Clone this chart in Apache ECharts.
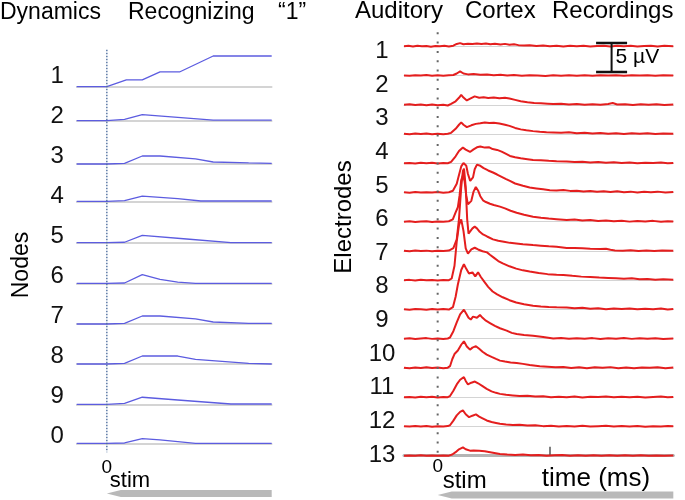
<!DOCTYPE html>
<html><head><meta charset="utf-8">
<script src="https://cdn.jsdelivr.net/npm/echarts@6/dist/echarts.min.js"></script>
<style>html,body{margin:0;padding:0;background:#fff}#c{width:685px;height:500px}</style>
</head><body><div id="c"></div>
<script>
// ---------------- DATA ----------------
const leftTitleWords = ['Dynamics', 'Recognizing', '\u201c1\u201d'];
const rightTitleWords = ['Auditory', 'Cortex', 'Recordings'];
const nodeNames = ['1','2','3','4','5','6','7','8','9','0'];
const electrodeNames = ['1','2','3','4','5','6','7','8','9','10','11','12','13'];
const leftAxisTitle = 'Nodes';
const rightAxisTitle = 'Electrodes';
const stimLabel = 'stim';
const zeroLabel = '0';
const timeLabel = 'time (ms)';
const timeTicks = [100];
const scaleBarLabel = '5 \u00b5V';
const scaleBar = {t: 155, top: 0.57, size: 5};
const leftRange = [-1.7, 9.3];
const rightRange = [-30, 210];

// node activations (time step, activation)
const node1 = [[-1.7,0],[0,0],[1.1,0.22],[2,0.22],[3,0.48],[4.1,0.48],[6,1],[9.3,1]];
const node2 = [[-1.7,0],[0,0],[1,0.045],[2,0.2],[4,0.11],[6,0.02],[9.3,0.02]];
const node3 = [[-1.7,0],[0,0],[1,0.02],[2,0.26],[3,0.26],[5,0.17],[6,0.065],[8,0.035],[9.3,0.02]];
const node4 = [[-1.7,0],[0,0],[1,0.02],[2,0.17],[4,0.085],[5.3,0.01],[9.3,0.01]];
const node5 = [[-1.7,0],[0,0],[1,0.015],[2,0.24],[4.5,0.12],[7,0],[9.3,0]];
const node6 = [[-1.7,0],[0,0],[1,0.01],[2,0.28],[3,0.13],[4,0.04],[5,0],[9.3,0]];
const node7 = [[-1.7,0],[0,0],[1,0.02],[2,0.26],[3,0.26],[5,0.17],[6,0.065],[8,0.02],[9.3,0.02]];
const node8 = [[-1.7,0],[0,0],[1,0.02],[2,0.26],[4,0.26],[5,0.15],[8,0.02],[9.3,0]];
const node9 = [[-1.7,0],[0,0],[1,0.03],[2,0.23],[4,0.14],[7,0.01],[9.3,0.01]];
const node0 = [[-1.7,0],[0,0],[1,0.01],[2,0.15],[3,0.11],[5,0],[9.3,0]];
const nodeSeries = [node1,node2,node3,node4,node5,node6,node7,node8,node9,node0];

// electrode recordings (ms, microvolts)
const e1 = [[-30,0],[-26,0.08],[-22,-0.05],[-18,0.1],[-14,0],[-10,0.06],[-6,-0.06],[-2,0.05],[2,0],[6,0.08],[10,-0.03],[14,0.1],[17,0.4],[20,0.55],[23,0.35],[27,0.45],[31,0.38],[35,0.5],[39,0.4],[43,0.48],[47,0.36],[51,0.44],[56,0.3],[60,0.42],[64,0.28],[68,0.36],[72,0.2],[77,0.12],[82,0.18],[88,0.05],[94,0.12],[100,0],[106,0.1],[112,-0.04],[118,0.08],[124,0.02],[130,0.1],[136,-0.04],[142,0.06],[148,0.1],[154,-0.02],[160,0.08],[166,0],[172,0.1],[178,-0.04],[184,0.06],[190,0.1],[196,-0.02],[202,0.08],[210,0.02]];
const e2 = [[-30,0.02],[-25,-0.05],[-20,0.06],[-15,0],[-10,0.08],[-5,-0.04],[0,0.05],[5,-0.02],[10,0.06],[14,0.1],[17,0.35],[20,0.7],[23,0.35],[27,0.2],[32,0.25],[38,0.12],[44,0.18],[50,0.06],[56,0.12],[62,0],[68,0.08],[75,-0.04],[82,0.06],[89,0.02],[96,-0.06],[103,0.05],[110,-0.02],[117,0.06],[124,-0.05],[131,0.04],[138,-0.03],[145,0.05],[152,0],[159,0.06],[166,-0.04],[173,0.04],[180,0],[187,0.06],[194,-0.03],[201,0.05],[210,0]];
const e3 = [[-30,0],[-25,0.08],[-20,-0.04],[-15,0.06],[-10,-0.08],[-5,0.05],[0,-0.1],[5,0.02],[9,-0.12],[12,0.15],[16,0.6],[19,1.2],[21,1.7],[23,1.25],[26,0.75],[29,1.05],[33,1.45],[37,1.2],[41,1.28],[45,1.18],[50,1.25],[55,1.12],[60,1.2],[64,1.08],[69,0.85],[74,0.62],[80,0.45],[86,0.32],[92,0.25],[98,0.18],[103,0.12],[110,0.18],[117,0.05],[124,0.12],[131,0],[138,0.1],[145,0.02],[152,0.12],[156,0.3],[160,0.05],[167,0.1],[174,-0.04],[181,0.08],[188,0.02],[195,0.1],[202,-0.05],[210,0.04]];
const e4 = [[-30,0.05],[-25,-0.04],[-20,0.08],[-15,0],[-10,0.1],[-5,-0.05],[0,0.05],[5,-0.03],[9,0.04],[12,0.2],[16,0.9],[19,1.6],[21,2.0],[23,1.6],[26,1.2],[30,1.5],[34,1.75],[38,1.85],[42,2.0],[46,1.9],[50,1.95],[55,1.8],[60,1.6],[64,1.4],[69,1.05],[74,0.8],[79,0.64],[85,0.5],[91,0.38],[97,0.3],[103,0.26],[110,0.2],[117,0.3],[124,0.15],[131,0.22],[138,0.1],[145,0.18],[152,0.05],[159,0.15],[166,0.02],[173,0.12],[180,0.05],[187,0.12],[194,0],[201,0.1],[210,0.04]];
const e5 = [[-30,0],[-25,0.06],[-20,-0.05],[-15,0.08],[-10,0],[-5,0.1],[0,-0.04],[5,0.05],[9,0],[12,0.25],[16,1.2],[19,2.1],[22.5,2.7],[25,2.35],[28.8,1.95],[32,2.4],[35,2.75],[38,2.9],[42,2.7],[46,2.75],[49,2.45],[53,2.3],[57,2.0],[61,1.6],[64.4,1.26],[69,1.05],[74,0.85],[80,0.7],[85,0.57],[92,0.5],[99,0.42],[106,0.35],[115,0.3],[122,0.2],[129,0.28],[136,0.12],[143,0.2],[150,0.08],[157,0.16],[164,0.05],[171,0.12],[178,0],[185,0.1],[192,0.04],[199,0.12],[205,0],[210,0.06]];
const e6 = [[-30,0.04],[-25,-0.05],[-20,0.08],[-15,-0.02],[-10,0.06],[-5,0],[0,0.08],[5,-0.04],[10,0.05],[13.6,0.3],[17,1.5],[19,3.0],[21,4.5],[23,5.1],[24.3,5.2],[25.5,4.6],[27,3.2],[29,2.0],[30.3,1.8],[31.5,2.6],[33,4.0],[35,4.8],[36.5,4.9],[38,4.6],[41,4.2],[45,3.8],[49.3,3.45],[53,3.1],[57,2.7],[61,2.3],[64.4,2.0],[69,1.55],[76,1.15],[82,0.85],[88,0.7],[94,0.55],[100,0.4],[106,0.35],[112,0.42],[118,0.28],[124,0.3],[130,0.18],[136,0.26],[142,0.12],[148,0.2],[154,0.08],[160,0.22],[166,0.05],[172,0.15],[178,0.02],[184,0.12],[190,0.06],[196,0.15],[203,0],[210,0.08]];
const e7 = [[-30,0],[-25,0.07],[-20,-0.04],[-15,0.06],[-10,0.1],[-5,-0.05],[0,0.04],[5,0],[10,0.08],[13.5,0.4],[16,1.6],[18,2.5],[19.5,4.5],[21,7.2],[22.5,8.0],[24,7.0],[25.5,4.5],[27,3.0],[28.5,2.9],[30,3.6],[32,5.2],[34,6.0],[36,5.4],[38,4.4],[40.4,3.7],[43,3.4],[46.6,3.1],[50,2.9],[55.5,2.6],[60,2.3],[65,1.9],[70.4,1.55],[77,1.2],[85,0.86],[92,0.7],[99,0.55],[106,0.45],[115,0.3],[122,0.38],[129,0.2],[136,0.28],[143,0.12],[150,0.22],[157,0.08],[164,0.18],[171,0.02],[178,0.12],[185,0.05],[192,0.15],[199,0],[205,0.1],[210,0.04]];
const e8 = [[-30,0.03],[-25,-0.05],[-20,0.08],[-15,0],[-10,0.06],[-5,-0.06],[0,0.05],[5,0],[10,0.07],[14,0.5],[17,2.0],[19,5.5],[21,11],[22.5,13.8],[23.5,14.2],[25,11],[26.3,5.5],[27.5,3.0],[29,3.2],[31,3.9],[33,4.2],[35,3.9],[37.5,3.3],[40.4,2.85],[44,2.5],[49.3,2.0],[54,1.75],[59,1.6],[64.4,1.4],[70,1.3],[76,1.18],[85,1.03],[92,0.92],[99,0.8],[106,0.72],[115,0.52],[122,0.5],[129,0.45],[136,0.4],[145,0.35],[150,0.38],[154,0.2],[158,0.1],[165,0.05],[172,0.12],[179,-0.02],[186,0.08],[193,0],[200,0.1],[210,0.02]];
const e9 = [[-30,0],[-25,0.06],[-20,-0.04],[-15,0.08],[-10,0],[-5,0.05],[0,-0.05],[5,0.04],[10,0],[12.5,0.3],[15,2.5],[17,6.7],[19,9.5],[21,10.5],[23,8.5],[25,5.5],[27,4.6],[30,5.3],[33,5.6],[36,5.3],[40,5.0],[44,4.8],[46.6,4.4],[50,3.9],[54,3.3],[58,2.9],[64,2.4],[70,2.0],[76,1.7],[82,1.5],[90,1.25],[98,1.05],[106,0.95],[112,0.9],[120,0.75],[128,0.62],[136,0.55],[144,0.45],[152,0.4],[159,0.35],[166,0.25],[173,0.32],[180,0.15],[187,0.22],[194,0.1],[201,0.18],[210,0.08]];
const e10 = [[-30,0.05],[-25,-0.04],[-20,0.08],[-15,0.02],[-10,-0.05],[-5,0.06],[0,0],[5,0.08],[10,-0.02],[13.6,0.4],[16,2.2],[18,4.3],[21,6.8],[23.4,7.8],[25.5,7.0],[27.9,6.2],[31,6.4],[33.5,5.7],[36,6.4],[38.5,5.6],[41.5,4.8],[45,3.9],[49,3.1],[53,2.6],[58,2.1],[64,1.6],[70,1.2],[77,0.9],[85,0.64],[92,0.5],[99,0.42],[106,0.38],[115,0.35],[122,0.22],[129,0.3],[136,0.12],[143,0.2],[150,0.05],[157,0.15],[164,0.08],[171,0.18],[178,0.02],[185,0.12],[192,0.05],[199,0.15],[205,0],[210,0.06]];
const e11 = [[-30,0],[-25,0.06],[-20,-0.05],[-15,0.05],[-10,0.1],[-5,-0.03],[0,0.05],[5,-0.05],[9,0.04],[11,0.2],[14,1.3],[17,2.8],[20,4.2],[23.4,5.0],[25.5,4.3],[27.5,3.6],[29.5,3.3],[31.5,3.8],[33.2,4.0],[35,3.6],[37.7,4.1],[40,3.6],[43,3.1],[46.6,2.7],[51,2.2],[55.5,1.8],[61.5,1.4],[66,1.0],[70.4,0.8],[77,0.65],[85,0.5],[94,0.3],[103,0.05],[110,0.12],[117,-0.02],[124,0.08],[131,0],[138,0.1],[145,-0.04],[152,0.06],[159,0],[166,0.1],[173,-0.03],[180,0.06],[187,0],[194,0.08],[201,-0.04],[210,0.05]];
const e12 = [[-30,0.04],[-25,-0.06],[-20,0.06],[-15,-0.02],[-10,0.1],[-5,0],[0,0.06],[5,-0.05],[9,0.05],[11,0.3],[13,1.5],[15,2.4],[18,3.0],[21,4.0],[23.4,4.6],[26,3.7],[28.8,3.15],[31,3.5],[34.1,3.75],[37,3.3],[40,2.8],[43.7,2.3],[48,1.9],[52,1.55],[55.5,1.26],[60,1.1],[65,0.95],[70.4,0.86],[76,0.7],[82,0.5],[91,0.3],[98,0.2],[105,0.1],[112,0.18],[119,0],[126,0.12],[133,-0.05],[140,0.1],[147,0.02],[154,0.14],[161,-0.04],[168,0.08],[175,-0.06],[182,0.06],[189,0.02],[196,0.1],[203,-0.05],[210,0.06]];
const e13 = [[-30,0],[-25,0.05],[-20,-0.04],[-15,0.07],[-10,0],[-5,0.06],[0,-0.04],[5,0.05],[9,0],[11,0.2],[14,1.1],[17,2.2],[20,3.0],[23.4,3.45],[25,2.8],[27,2.2],[30,2.5],[33.2,2.7],[36,2.4],[40,1.9],[43.7,1.43],[48,1.0],[52,0.75],[55.5,0.57],[61,0.4],[67,0.3],[73,0.2],[80,0.25],[87,0.1],[94,0.15],[101,-0.02],[108,0.08],[115,0],[122,0.1],[129,-0.04],[136,0.06],[143,0.02],[150,0.1],[157,-0.03],[164,0.06],[171,0],[178,0.08],[185,-0.04],[192,0.05],[199,0.1],[205,0],[210,0.05]];
const e14 = [[-30,0.05],[-25,-0.03],[-20,0.06],[-15,0],[-10,0.08],[-5,-0.05],[0,0.04],[5,0],[9,0.06],[11,0.2],[14,1.0],[17,1.9],[20,2.5],[22.5,2.75],[25,2.1],[28,1.6],[31,1.85],[34.1,2.07],[37,1.7],[40,1.4],[43.7,1.03],[48,0.75],[52,0.6],[55.5,0.47],[61,0.35],[67,0.25],[73,0.3],[80,0.15],[87,0.2],[94,0.05],[101,0.12],[108,-0.02],[115,0.08],[122,0],[129,0.1],[136,-0.03],[143,0.05],[150,0.1],[157,-0.02],[164,0.06],[171,0],[178,0.08],[185,-0.04],[192,0.05],[199,0],[205,0.08],[210,0.02]];
const e15 = [[-30,0],[-25,0.04],[-20,-0.03],[-15,0.05],[-10,0],[-5,0.04],[0,-0.02],[5,0.04],[10,0],[13,0.2],[16,0.6],[19,1.1],[22.5,1.43],[25,1.1],[28.8,0.86],[32,0.9],[37,0.86],[42,0.75],[48,0.55],[55.5,0.3],[62,0.2],[69,0.12],[76,0.18],[83,0.05],[90,0.1],[97,0],[104,0.06],[111,0.1],[118,0],[125,0.06],[132,-0.02],[139,0.05],[146,0],[153,0.06],[160,-0.02],[167,0.05],[174,0],[181,0.06],[188,-0.03],[195,0.04],[202,0],[210,0.04]];
const electrodeTraces = [e1,e2,e3,e4,e5,e6,e7,e8,e9,e10,e11,e12,e13,e14,e15];

// ---------------- LAYOUT / STYLE ----------------
const FONT = '"Liberation Sans", Arial, Helvetica, sans-serif';
const L = {left: 76.7, width: 195, bases: [86.7,120.7,164,201.3,242.7,283.3,324,364,404.3,443.3], h: 30.7,
           labelTop: 56.5, labelH: 400, labelMargin: 19.5};
const R = {left: 404, width: 269.3, base0: 46.3, step: 29.24, pxPerUnit: 5.8, yMin: -1, yMax: 5,
           labelTop: 34.7, labelH: 437, labelMargin: 22};

const chart = echarts.init(document.getElementById('c'), null, {renderer: 'canvas', width: 685, height: 500});

const grids = [], xAxes = [], yAxes = [], series = [];
nodeSeries.forEach((d, i) => {
  grids.push({left: L.left, width: L.width, top: L.bases[i] - L.h, height: L.h});
  xAxes.push({type: 'value', gridIndex: i, min: leftRange[0], max: leftRange[1],
    axisLine: {show: true, onZero: true, lineStyle: {color: '#c6c6c6', width: 1.6}},
    axisTick: {show: false}, axisLabel: {show: false}, splitLine: {show: false}});
  yAxes.push({type: 'value', gridIndex: i, min: 0, max: 1, show: false});
  series.push({type: 'line', xAxisIndex: i, yAxisIndex: i, data: d, showSymbol: false, clip: false, silent: true,
    lineStyle: {color: '#5c5ce0', width: 1.3}});
});
const rStart = grids.length;
electrodeTraces.forEach((d, k) => {
  const gi = grids.length;
  const base = R.base0 + R.step * k;
  const last = k === electrodeTraces.length - 1;
  grids.push({left: R.left, width: R.width, top: base - R.yMax * R.pxPerUnit, height: (R.yMax - R.yMin) * R.pxPerUnit});
  xAxes.push({type: 'value', gridIndex: gi, min: rightRange[0], max: rightRange[1],
    axisLine: {show: true, onZero: true, lineStyle: {color: last ? '#b4b4b4' : '#d4d4d4', width: last ? 3 : 1}},
    axisTick: last ? {show: true, customValues: timeTicks, inside: true, length: 9, lineStyle: {color: '#555', width: 1.5}} : {show: false},
    axisLabel: {show: false}, splitLine: {show: false}});
  yAxes.push({type: 'value', gridIndex: gi, min: R.yMin, max: R.yMax, show: false});
  series.push({type: 'line', xAxisIndex: gi, yAxisIndex: gi, data: d, showSymbol: false, clip: false, silent: true,
    lineStyle: {color: '#e41e1e', width: 2}});
});
// label grids
const gL = grids.length;
grids.push({left: L.left, width: L.width, top: L.labelTop, height: L.labelH});
xAxes.push({type: 'value', gridIndex: gL, min: leftRange[0], max: leftRange[1], show: false});
yAxes.push({type: 'category', gridIndex: gL, data: nodeNames, inverse: true,
  axisLine: {show: false}, axisTick: {show: false}, splitLine: {show: false},
  axisLabel: {fontSize: 24, color: '#111', fontFamily: FONT, align: 'center', margin: L.labelMargin}});
const gR = grids.length;
grids.push({left: R.left, width: R.width, top: R.labelTop, height: R.labelH});
xAxes.push({type: 'value', gridIndex: gR, min: rightRange[0], max: rightRange[1], show: false});
yAxes.push({type: 'category', gridIndex: gR, data: electrodeNames, inverse: true,
  axisLine: {show: false}, axisTick: {show: false}, splitLine: {show: false},
  axisLabel: {fontSize: 24, color: '#111', fontFamily: FONT, align: 'center', margin: R.labelMargin}});

chart.setOption({animation: false, backgroundColor: '#fff', grid: grids, xAxis: xAxes, yAxis: yAxes, series: series});

// ---------------- ANNOTATIONS ----------------
const px = (g, p) => chart.convertToPixel({gridIndex: g}, p);
const x0L = px(0, [0, 0])[0], xEndL = px(0, [leftRange[1], 0])[0];
const x0R = px(rStart, [0, 0])[0], xEndR = px(rStart, [rightRange[1], 0])[0];
const sbTop = px(rStart, [scaleBar.t, scaleBar.top]);
const sbBot = px(rStart, [scaleBar.t, scaleBar.top - scaleBar.size]);
const lastBaseR = R.base0 + R.step * (electrodeTraces.length - 1);
const txt = (text, x, y, size, opt) => Object.assign({type: 'text', z: 20,
  style: Object.assign({text: text, x: x, y: y, fill: '#000', font: size + 'px ' + FONT, textVerticalAlign: 'middle'}, opt || {})});

const g = [];
g.push({type: 'line', z: 15, shape: {x1: x0L, y1: L.bases[0] - 37, x2: x0L, y2: L.bases[L.bases.length - 1] + 9},
  style: {stroke: '#4f6f9f', lineWidth: 1.4, lineDash: [1.5, 1.5]}});
g.push({type: 'line', z: 15, shape: {x1: x0R, y1: R.base0 - 14, x2: x0R, y2: lastBaseR + 2},
  style: {stroke: '#666', lineWidth: 2, lineDash: [2, 7.3]}});
// scale bar
g.push({type: 'line', z: 15, shape: {x1: sbTop[0], y1: sbTop[1], x2: sbBot[0], y2: sbBot[1]}, style: {stroke: '#111', lineWidth: 2}});
g.push({type: 'line', z: 15, shape: {x1: sbTop[0] - 15.5, y1: sbTop[1], x2: sbTop[0] + 15.5, y2: sbTop[1]}, style: {stroke: '#111', lineWidth: 2.5}});
g.push({type: 'line', z: 15, shape: {x1: sbBot[0] - 15.5, y1: sbBot[1], x2: sbBot[0] + 15.5, y2: sbBot[1]}, style: {stroke: '#111', lineWidth: 2.5}});
g.push(txt(scaleBarLabel, sbTop[0] + 4, (sbTop[1] + sbBot[1]) / 2, 21));
// titles
const ltx = [0, 128, 278], rtx = [355, 465, 552];
leftTitleWords.forEach((w, i) => g.push(txt(w, ltx[i], 13, 23)));
rightTitleWords.forEach((w, i) => g.push(txt(w, rtx[i], 11, 24)));
// axis titles
g.push({type: 'text', z: 20, rotation: Math.PI / 2, x: 22, y: 265,
  style: {text: leftAxisTitle, fill: '#000', font: '23px ' + FONT, textAlign: 'center', textVerticalAlign: 'middle'}});
g.push({type: 'text', z: 20, rotation: Math.PI / 2, x: 344, y: 217,
  style: {text: rightAxisTitle, fill: '#000', font: '24px ' + FONT, textAlign: 'center', textVerticalAlign: 'middle'}});
// bottom labels
g.push(txt(zeroLabel, x0L, 468, 19, {textAlign: 'center'}));
g.push(txt(stimLabel, x0L + 3, 481, 22));
g.push(txt(zeroLabel, x0R, 467, 19, {textAlign: 'center'}));
g.push(txt(stimLabel, x0R + 5, 481, 24));
g.push(txt(timeLabel, px(rStart, [timeTicks[0], 0])[0] - 8, 479, 26));
// gray arrow bars
const bar = (xa, xb, y1, y2) => ({type: 'polygon', z: 5,
  shape: {points: [[xa, (y1 + y2) / 2], [xa + 14, y1], [xb, y1], [xb, y2], [xa + 14, y2]]},
  style: {fill: '#b9b9b9'}});
g.push(bar(x0L, xEndL, 490, 497));
g.push(bar(x0R, xEndR, 491.5, 498.5));
chart.setOption({graphic: g});
</script></body></html>
